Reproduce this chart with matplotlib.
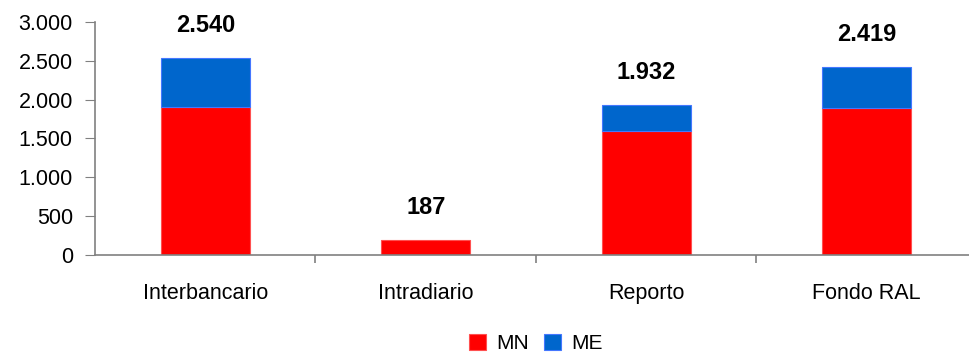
import numpy as np
import matplotlib
matplotlib.use("Agg")
from matplotlib import pyplot as plt
from matplotlib.ticker import FuncFormatter, FixedLocator

plt.rcParams['font.family'] = ['Liberation Sans', 'DejaVu Sans']

categories = ["Interbancario", "Intradiario", "Reporto", "Fondo RAL"]
mn = [1905, 187, 1592, 1888]
me = [635, 0, 340, 531]
totals = [2540, 187, 1932, 2419]

def miles(v, pos=None):
    return "{:,.0f}".format(v).replace(",", ".")

fig = plt.figure(figsize=(9.7, 3.54), dpi=100)
ax = fig.add_axes([0.098, 0.28, 0.909, 0.658])

x = np.arange(len(categories))
w = 0.405
ax.bar(x, mn, w, color="#ff0000", edgecolor="#ff5050", linewidth=0.8, label="MN")
# bloque ME solo donde hay valor
me_lw = [0.8 if v > 0 else 0 for v in me]
ax.bar(x, me, w, bottom=mn, color="#0066cc", edgecolor="#4477ff", linewidth=me_lw, label="ME")

for xi, t in zip(x, totals):
    ax.text(xi, t + 420, miles(t), ha="center", va="center",
            fontsize=17, fontweight="bold")

ax.set_xlim(-0.5, 3.5)
ax.set_ylim(0, 3000)
ax.set_yticks(np.arange(0, 3001, 500))
ax.yaxis.set_major_formatter(FuncFormatter(miles))
ax.set_xticks(x)
ax.set_xticklabels(categories)
ax.xaxis.set_minor_locator(FixedLocator([0.5, 1.5, 2.5]))

for s in ["top", "right"]:
    ax.spines[s].set_visible(False)
for s in ["left", "bottom"]:
    ax.spines[s].set_color("#808080")
    ax.spines[s].set_linewidth(1.2)

ax.tick_params(axis="y", length=7, color="#808080", pad=9, labelsize=15.5)
ax.tick_params(axis="x", which="major", length=0, pad=20, labelsize=15.5)
ax.tick_params(axis="x", which="minor", length=6, color="#808080", width=1.2)

ax.legend(loc="lower center", bbox_to_anchor=(0.5, -0.475), ncol=2, frameon=False,
          fontsize=15, handlelength=0.8, handleheight=0.8, handletextpad=0.5,
          columnspacing=0.7, borderpad=0.1)

fig.savefig("out.png", dpi=100)
